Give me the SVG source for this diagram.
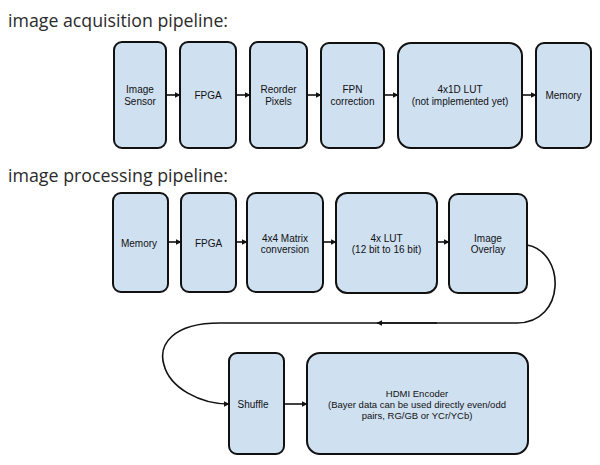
<svg xmlns="http://www.w3.org/2000/svg" width="600" height="465" viewBox="0 0 600 465">
<defs>
<style>
.box{fill:#cfe0f1;stroke:#111;stroke-width:2}
.t{font-family:"Liberation Sans",Arial,sans-serif;font-size:10px;fill:#111;text-anchor:middle}
.s{font-size:9.5px}
.title{font-family:"Open Sans","Noto Sans",sans-serif;font-size:19px;fill:#2a2a2a}
.c{fill:none;stroke:#111;stroke-width:1.6}
</style>
<marker id="ah" viewBox="0 0 10 10" refX="9" refY="5" markerWidth="6" markerHeight="6" orient="auto" markerUnits="userSpaceOnUse">
<path d="M0,0 L10,5 L0,10 z" fill="#111"/>
</marker>
</defs>
<rect width="600" height="465" fill="#ffffff"/>
<text class="title" x="8" y="27" textLength="220" lengthAdjust="spacingAndGlyphs">image acquisition pipeline:</text>
<text class="title" x="8" y="182" textLength="220" lengthAdjust="spacingAndGlyphs">image processing pipeline:</text>

<g id="a_sensor"><rect class="box" x="114" y="42" width="52" height="106" rx="8"/><text class="t" x="140" y="93">Image</text><text class="t" x="140" y="105">Sensor</text></g>
<g id="a_fpga"><rect class="box" x="180" y="42" width="56" height="106" rx="8"/><text class="t" x="208" y="99">FPGA</text></g>
<g id="a_reorder"><rect class="box" x="250" y="42" width="57" height="106" rx="8"/><text class="t" x="278.5" y="93">Reorder</text><text class="t" x="278.5" y="105">Pixels</text></g>
<g id="a_fpn"><rect class="box" x="321" y="43" width="63" height="105" rx="8"/><text class="t" x="352.5" y="93">FPN</text><text class="t" x="352.5" y="105">correction</text></g>
<g id="a_lut"><rect class="box" x="398" y="43" width="124" height="105" rx="13"/><text class="t" x="460" y="93">4x1D LUT</text><text class="t" x="460" y="105">(not implemented yet)</text></g>
<g id="a_memory"><rect class="box" x="536" y="43" width="55" height="105" rx="8"/><text class="t" x="563.5" y="99">Memory</text></g>

<g id="p_memory"><rect class="box" x="113" y="193" width="55" height="99" rx="8"/><text class="t" x="139" y="246.5">Memory</text></g>
<g id="p_fpga"><rect class="box" x="181" y="193" width="55" height="99" rx="8"/><text class="t" x="208.5" y="246.5">FPGA</text></g>
<g id="p_matrix"><rect class="box" x="247" y="193" width="76" height="99" rx="9"/><text class="t" x="285" y="241.5">4x4 Matrix</text><text class="t" x="285" y="253">conversion</text></g>
<g id="p_lut"><rect class="box" x="336" y="193" width="101" height="100" rx="11"/><text class="t" x="386.5" y="241.5">4x LUT</text><text class="t" x="386.5" y="253">(12 bit to 16 bit)</text></g>
<g id="p_overlay"><rect class="box" x="449" y="194" width="78" height="99" rx="9"/><text class="t" x="488" y="241.5">Image</text><text class="t" x="488" y="253">Overlay</text></g>
<g id="p_shuffle"><rect class="box" x="229" y="353" width="55" height="101" rx="8"/><text class="t" x="253" y="407.5">Shuffle</text></g>
<g id="p_hdmi"><rect class="box" x="307" y="353" width="221" height="101" rx="13"/><text class="t s" x="417" y="396.5">HDMI Encoder</text><text class="t s" x="417" y="407.5">(Bayer data can be used directly even/odd</text><text class="t s" x="417" y="418.5">pairs, RG/GB or YCr/YCb)</text></g>

<g id="connectors">
<path class="c" d="M166,95 H180" marker-end="url(#ah)"/>
<path class="c" d="M236,95 H250" marker-end="url(#ah)"/>
<path class="c" d="M307,95 H321" marker-end="url(#ah)"/>
<path class="c" d="M384,95 H398" marker-end="url(#ah)"/>
<path class="c" d="M522,95 H536" marker-end="url(#ah)"/>
<path class="c" d="M168,242 H181" marker-end="url(#ah)"/>
<path class="c" d="M236,242 H247" marker-end="url(#ah)"/>
<path class="c" d="M323,242 H336" marker-end="url(#ah)"/>
<path class="c" d="M437,242 H449" marker-end="url(#ah)"/>
<path class="c" d="M527,245 C566,252 566,323 517,323 H220 C172,323 158,345 164,365 C170,388 200,404 229,404" marker-end="url(#ah)"/>
<path class="c" d="M437,323 H377" marker-end="url(#ah)"/>
<path class="c" d="M284,404 H307" marker-end="url(#ah)"/>
</g>
</svg>
